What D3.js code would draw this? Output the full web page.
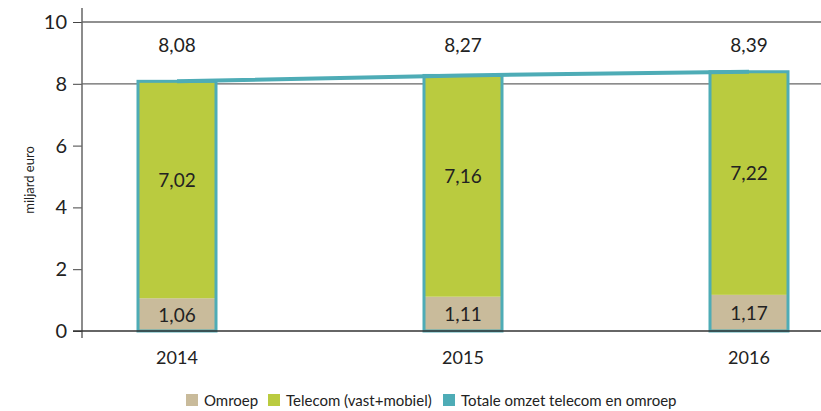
<!DOCTYPE html>
<html>
<head>
    <script src="https://cdn.jsdelivr.net/npm/d3@7"></script>
    <meta charset="utf-8">
    <style>
        body { margin: 0; background: #fff; }
        text { font-family: Lato, "Open Sans", sans-serif; fill: #222; }
    </style>
</head>
<body>
    <script>
        var years = ['2014', '2015', '2016'];
        var omroep = [1.06, 1.11, 1.17];
        var telecom = [7.02, 7.16, 7.22];
        var totaal = [8.08, 8.27, 8.39];
        var yTicks = [0, 2, 4, 6, 8, 10];
        var seriesNames = ['Omroep', 'Telecom (vast+mobiel)', 'Totale omzet telecom en omroep'];

        var colOmroep = '#c9bb9b', colTelecom = '#bacb3f', colTotaal = '#4eacb6';
        var fmt = function (v) { return d3.format('.2f')(v).replace('.', ','); };

        var svg = d3.select('body').append('svg')
            .attr('width', 821).attr('height', 411);

        var y = d3.scaleLinear().domain([0, 10]).range([331, 22]);
        var x = d3.scalePoint().domain(years).range([177, 749]);
        var barWidth = 78;

        // grid lines at 8 and 10
        svg.selectAll('line.grid')
            .data([8, 10])
            .enter().append('line')
            .attr('x1', 82).attr('x2', 821)
            .attr('y1', function (d) { return y(d); })
            .attr('y2', function (d) { return y(d); })
            .attr('stroke', function (d) { return d == 10 ? '#222' : '#666'; })
            .attr('stroke-width', 1.2);

        // y axis
        var yAxis = d3.axisLeft(y).tickValues(yTicks).tickSize(9).tickPadding(6);
        var gy = svg.append('g').attr('transform', 'translate(82,0)').call(yAxis);
        gy.select('.domain').remove();
        gy.selectAll('.tick line').attr('stroke', '#444');
        gy.selectAll('.tick text').style('font-size', '20px').attr('fill', '#222');
        svg.append('line').attr('x1', 82).attr('x2', 82).attr('y1', 8).attr('y2', 338)
            .attr('stroke', '#666').attr('stroke-width', 1.5);

        svg.append('text')
            .attr('transform', 'translate(34,180) rotate(-90)')
            .attr('text-anchor', 'middle')
            .style('font-size', '13px')
            .text('miljard euro');

        // bars
        var bars = svg.selectAll('g.bar')
            .data(years)
            .enter().append('g');

        bars.append('rect')
            .attr('x', function (d) { return x(d) - barWidth / 2; })
            .attr('width', barWidth)
            .attr('y', function (d, i) { return y(omroep[i]); })
            .attr('height', function (d, i) { return y(0) - y(omroep[i]); })
            .attr('fill', colOmroep);

        bars.append('rect')
            .attr('x', function (d) { return x(d) - barWidth / 2; })
            .attr('width', barWidth)
            .attr('y', function (d, i) { return y(omroep[i] + telecom[i]); })
            .attr('height', function (d, i) { return y(omroep[i]) - y(omroep[i] + telecom[i]); })
            .attr('fill', colTelecom);

        // x axis line
        svg.append('line').attr('x1', 73).attr('x2', 821).attr('y1', y(0)).attr('y2', y(0))
            .attr('stroke', '#333').attr('stroke-width', 1.5);

        // outline for total
        bars.append('rect')
            .attr('x', function (d) { return x(d) - barWidth / 2; })
            .attr('width', barWidth)
            .attr('y', function (d, i) { return y(totaal[i]); })
            .attr('height', function (d, i) { return y(0) - y(totaal[i]); })
            .attr('fill', 'none')
            .attr('stroke', colTotaal)
            .attr('stroke-width', 3);

        // total line
        var line = d3.line()
            .x(function (d, i) { return x(years[i]); })
            .y(function (d) { return y(d); });
        svg.append('path')
            .datum(totaal)
            .attr('d', line)
            .attr('fill', 'none')
            .attr('stroke', colTotaal)
            .attr('stroke-width', 4);

        // value labels
        bars.append('text')
            .attr('x', function (d) { return x(d); })
            .attr('y', 52)
            .attr('text-anchor', 'middle')
            .style('font-size', '19px')
            .text(function (d, i) { return fmt(totaal[i]); });

        bars.append('text')
            .attr('x', function (d) { return x(d); })
            .attr('y', function (d, i) { return (y(omroep[i]) + y(omroep[i] + telecom[i])) / 2 - 3; })
            .attr('text-anchor', 'middle')
            .style('font-size', '19px')
            .text(function (d, i) { return fmt(telecom[i]); });

        bars.append('text')
            .attr('x', function (d) { return x(d); })
            .attr('y', function (d, i) { return (y(0) + y(omroep[i])) / 2 + 7; })
            .attr('text-anchor', 'middle')
            .style('font-size', '19px')
            .text(function (d, i) { return fmt(omroep[i]); });

        // x labels
        svg.selectAll('text.xl')
            .data(years)
            .enter().append('text')
            .attr('x', function (d) { return x(d); })
            .attr('y', 364)
            .attr('text-anchor', 'middle')
            .style('font-size', '18px')
            .text(function (d) { return d; });

        // legend
        var legendX = [186, 268, 443];
        var legendCol = [colOmroep, colTelecom, colTotaal];
        var lg = svg.selectAll('g.legend')
            .data(seriesNames)
            .enter().append('g')
            .attr('transform', function (d, i) { return 'translate(' + legendX[i] + ',394)'; });
        lg.append('rect').attr('width', 12).attr('height', 12)
            .attr('fill', function (d, i) { return legendCol[i]; });
        lg.append('text').attr('x', 18).attr('y', 12)
            .style('font-size', '15px')
            .text(function (d) { return d; });
    </script>
</body>
</html>
